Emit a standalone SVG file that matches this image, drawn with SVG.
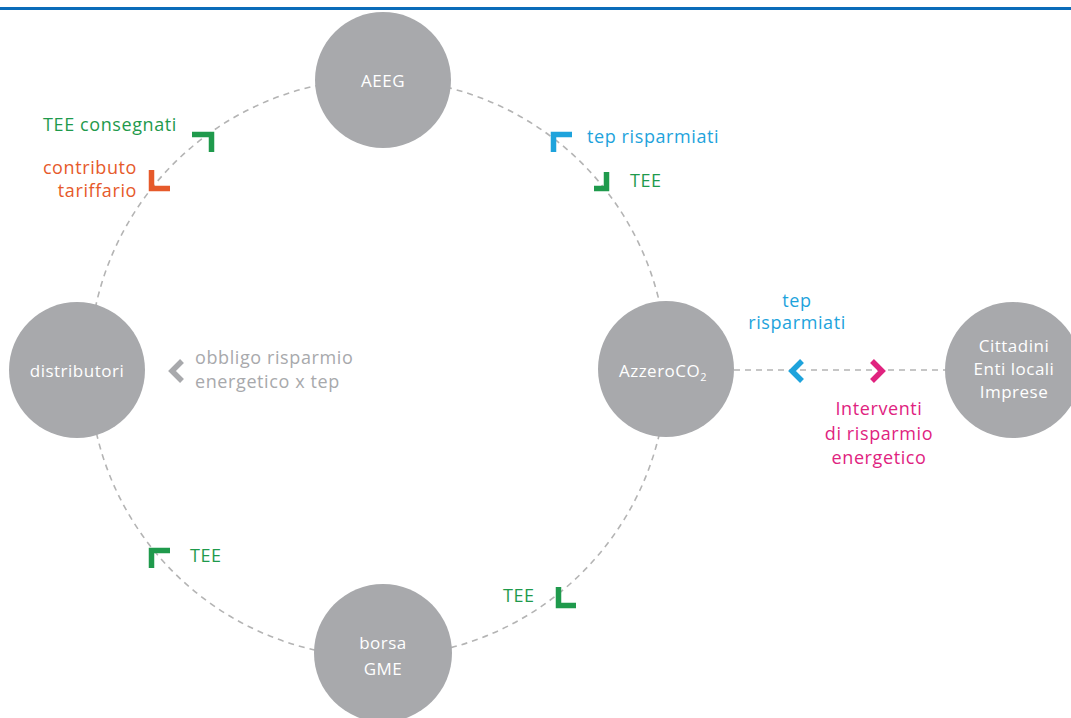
<svg xmlns="http://www.w3.org/2000/svg" width="1071" height="718" viewBox="0 0 1071 718">
<style>
.node{fill:#a8a9ac}
.nl{fill:#fff;font-family:"Open Sans","Liberation Sans",sans-serif;font-size:17px;letter-spacing:0.5px;text-anchor:middle}
.t{font-family:"Open Sans","Liberation Sans",sans-serif;font-size:18px;letter-spacing:0.6px}
.dash{fill:none;stroke:#b4b4b4;stroke-width:1.6;stroke-dasharray:6 5}
.ar{fill:none;stroke-width:5.5;stroke-linecap:butt;stroke-linejoin:miter}
.g{fill:#1f9a4c}.gs{stroke:#1f9a4c}
.o{fill:#e65a2b}.os{stroke:#e65a2b}
.b{fill:#1ea3dc}.bs{stroke:#1ea3dc}
.m{fill:#e0237f}.ms{stroke:#e0237f}
.gr{fill:#a8a9ac}.grs{stroke:#a8a9ac}
</style>
<rect width="1071" height="718" fill="#fff"/>
<rect x="0" y="7" width="1071" height="3" fill="#0a6cb9"/>
<g id="connectors">
<circle class="dash" cx="378" cy="368" r="289"/>
<line class="dash" x1="734" y1="370" x2="946" y2="370"/>
<path class="ar gs" d="M192 134.5H211.5V152"/>
<path class="ar os" d="M151.5 170V188.5H170"/>
<path class="ar bs" d="M572 134.5H553.5V152"/>
<path class="ar gs" d="M606.5 172V188.5H594"/>
<path class="ar gs" d="M170 550.5H151.5V568"/>
<path class="ar gs" d="M558.5 587V605.5H576"/>
<path class="ar grs" d="M182 361L172 371L182 381"/>
<path class="ar bs" d="M802 361L792 371L802 381"/>
<path class="ar ms" d="M872 361L882 371L872 381"/>
</g>
<g id="labels">
<text class="t g" x="177" y="131" text-anchor="end">TEE consegnati</text>
<text class="t o" x="137" y="174" text-anchor="end">contributo</text>
<text class="t o" x="137" y="197" text-anchor="end">tariffario</text>
<text class="t b" x="587" y="143">tep risparmiati</text>
<text class="t g" x="630" y="187">TEE</text>
<text class="t gr" x="195" y="364">obbligo risparmio</text>
<text class="t gr" x="195" y="388">energetico x tep</text>
<text class="t b" x="797" y="307" text-anchor="middle">tep</text>
<text class="t b" x="797" y="329" text-anchor="middle">risparmiati</text>
<text class="t m" x="879" y="415" text-anchor="middle">Interventi</text>
<text class="t m" x="879" y="440" text-anchor="middle">di risparmio</text>
<text class="t m" x="879" y="464" text-anchor="middle">energetico</text>
<text class="t g" x="190" y="562">TEE</text>
<text class="t g" x="503" y="602">TEE</text>
</g>
<g id="aeeg"><circle class="node" cx="383" cy="80" r="68"/><text class="nl" x="383" y="87">AEEG</text></g>
<g id="distributori"><circle class="node" cx="77" cy="370" r="68"/><text class="nl" x="77" y="377">distributori</text></g>
<g id="azzeroco2"><circle class="node" cx="666" cy="369" r="68"/><text class="nl" x="663" y="377">AzzeroCO<tspan font-size="11" dy="4">2</tspan></text></g>
<g id="cittadini"><circle class="node" cx="1013" cy="370" r="68"/><text class="nl" x="1014" y="352">Cittadini</text><text class="nl" x="1014" y="375">Enti locali</text><text class="nl" x="1014" y="398">Imprese</text></g>
<g id="borsa"><circle class="node" cx="383" cy="653" r="69"/><text class="nl" x="383" y="649">borsa</text><text class="nl" x="383" y="675">GME</text></g>
</svg>
